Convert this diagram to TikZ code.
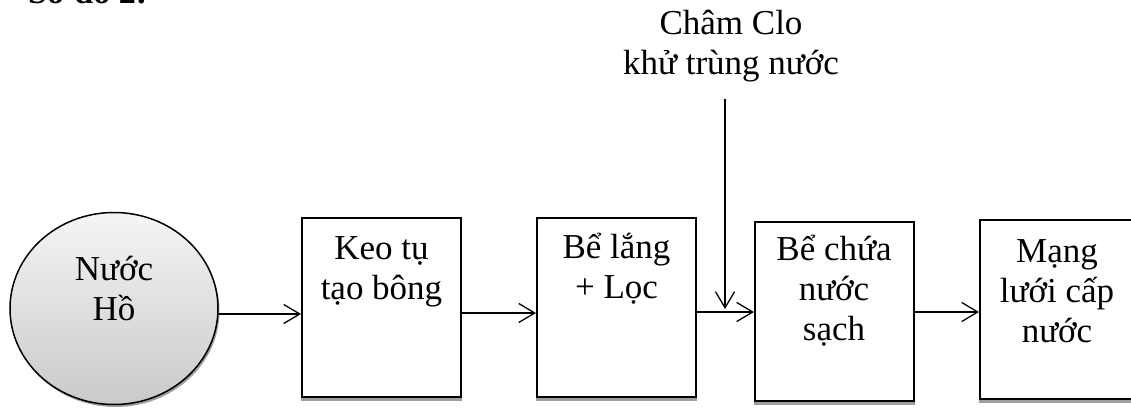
\documentclass[tikz,border=0pt]{standalone}
\usepackage{fontspec}
\setmainfont{Liberation Serif}
\usetikzlibrary{arrows.meta,shapes.geometric}
\definecolor{shadowgray}{gray}{0.62}
\begin{document}
\begin{tikzpicture}[x=1pt,y=-1pt,
  every node/.style={font=\fontsize{35}{40}\selectfont},
  stepbox/.style={draw=black,line width=2pt,fill=white,anchor=north west,
    inner sep=0pt,minimum width=159pt,minimum height=179pt},
  % multi-line texts are placed by the baseline of their last line
  steptext/.style={align=center,anchor=base,inner sep=0pt},
  flow/.style={line width=1.3pt,
    -{Straight Barb[length=16pt,width=19pt,line width=1.3pt]}},
]
% page frame
\path[use as bounding box,clip] (0,0) rectangle (1131,409);

% heading (runs off the top edge)
\node[anchor=base west,inner sep=0pt,font=\fontsize{34}{40}\selectfont\bfseries]
  (title) at (28,4) {Sơ đồ 2:};

% source: lake water
\fill[shadowgray] (115.5,311) ellipse [x radius=104pt, y radius=96pt];
\node[ellipse,draw=black,line width=1.5pt,inner sep=0pt,
  minimum width=208pt,minimum height=192pt,
  top color=gray!8,bottom color=gray!42] (lake) at (114,308.5) {};
\node[steptext] (laket) at (114,320) {Nước\\Hồ};

% treatment stages
\node[stepbox] (b1) at (301,217) {};
\node[stepbox] (b2) at (536,217) {};
\node[stepbox] (b3) at (754,221) {};
\node[stepbox,minimum width=154pt] (b4) at (979,219) {};
\foreach \b in {b1,b2,b3,b4}
  \fill[shadowgray] (\b.south west) rectangle ([yshift=-3pt]\b.south east);

\node[steptext] (b1t) at (381.5,299) {Keo tụ\\tạo bông};
\node[steptext] (b2t) at (616.5,298) {Bể lắng\\+ Lọc};
\node[steptext] (b3t) at (834,340) {Bể chứa\\nước\\sạch};
\node[steptext] (b4t) at (1057,342) {Mạng\\lưới cấp\\nước};

% chlorine dosing
\node[steptext] (clo) at (731,75) {Châm Clo\\khử trùng nước};
\coordinate (dose) at (725,99);
\coordinate (dosetip) at (725,309);
\draw[flow] (dose) -- (dosetip);

% flow between stages
\draw[flow] (lake.-3) -- (lake.-3 -| b1.west);
\draw[flow] (b1.east |- 0,313) -- (b2.west |- 0,313);
\draw[flow] (b2.east |- 0,312) -- (b3.west |- 0,312);
\draw[flow] (b3.east |- 0,312) -- (b4.west |- 0,312);
\end{tikzpicture}
\end{document}
